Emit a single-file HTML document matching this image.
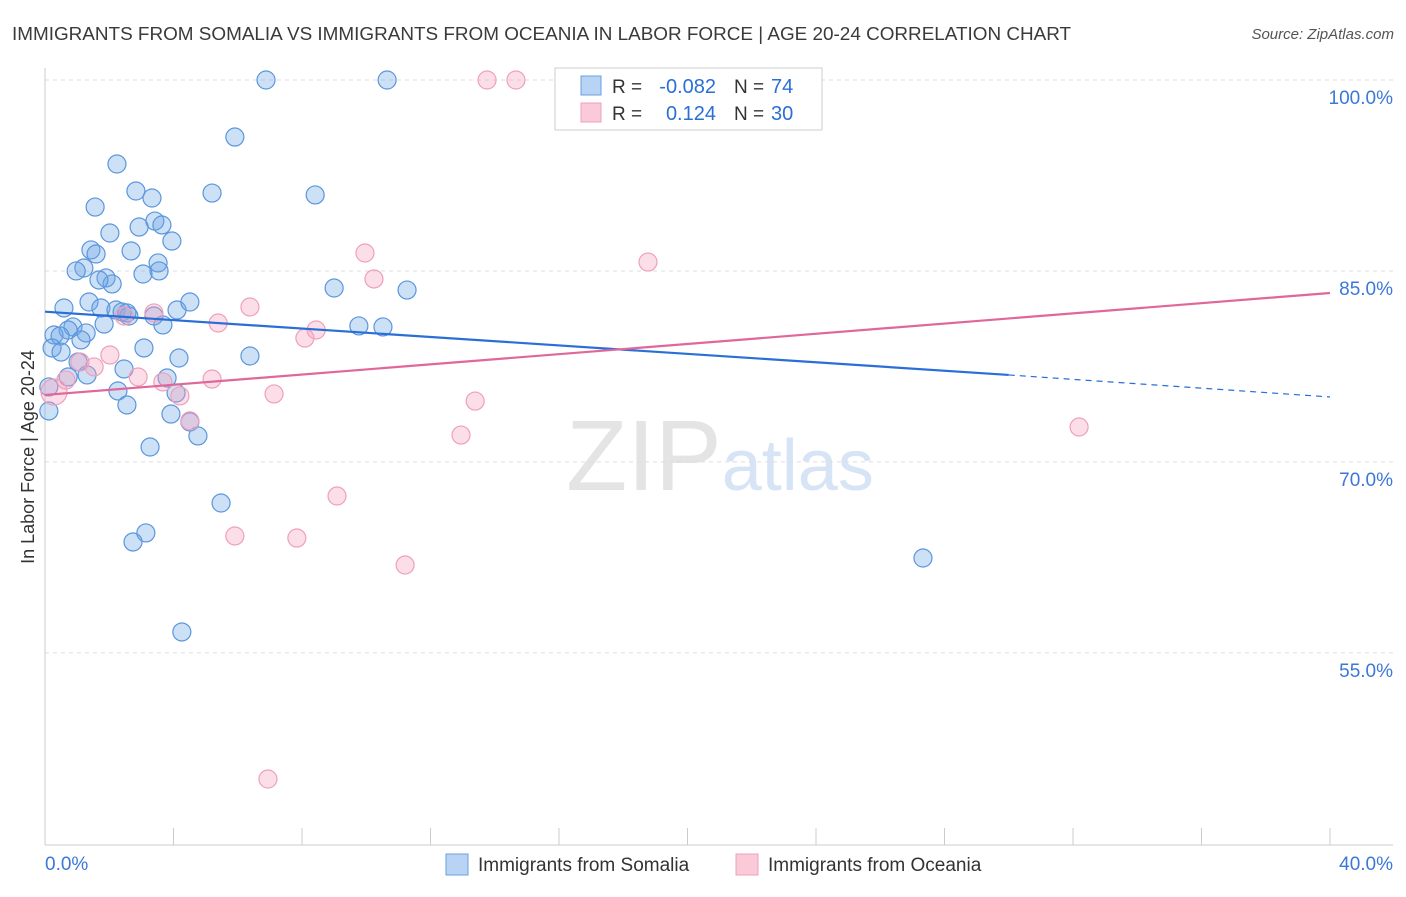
<!DOCTYPE html>
<html><head><meta charset="utf-8"><style>
body{margin:0;background:#fff;font-family:"Liberation Sans",sans-serif;}
svg text{font-family:"Liberation Sans",sans-serif;}
</style></head><body>
<svg id="chart" width="1406" height="892" xmlns="http://www.w3.org/2000/svg">
<text x="12" y="40" font-size="18.9" fill="#3a3a3a">IMMIGRANTS FROM SOMALIA VS IMMIGRANTS FROM OCEANIA IN LABOR FORCE | AGE 20-24 CORRELATION CHART</text>
<text x="1394" y="39" font-size="15" fill="#555" text-anchor="end" font-style="italic">Source: ZipAtlas.com</text>
<text x="720" y="490" font-size="100" fill="#e4e4e4" text-anchor="middle" font-family="Liberation Serif">ZIP<tspan fill="#d6e4f5" font-family="Liberation Sans" font-size="72">atlas</tspan></text>
<text transform="translate(34,457) rotate(-90)" font-size="18" fill="#333" text-anchor="middle">In Labor Force | Age 20-24</text>
<g id="grid"></g><g id="axes"></g><g id="marks"></g><g id="lines"></g>
<g>
<rect x="555" y="68" width="267" height="62" fill="#fff" stroke="#ccc"/>
<rect x="581" y="76" width="20" height="19" fill="#b8d3f3" stroke="#6a9fe0"/>
<rect x="581" y="103" width="20" height="19" fill="#fbcad9" stroke="#eea0bb"/>
<text x="612" y="93" font-size="19" fill="#333">R =</text>
<text x="716" y="93" font-size="20" fill="#2a6fd6" text-anchor="end">-0.082</text>
<text x="734" y="93" font-size="19" fill="#333">N =</text>
<text x="771" y="93" font-size="20" fill="#2a6fd6">74</text>
<text x="612" y="120" font-size="19" fill="#333">R =</text>
<text x="716" y="120" font-size="20" fill="#2a6fd6" text-anchor="end">0.124</text>
<text x="734" y="120" font-size="19" fill="#333">N =</text>
<text x="771" y="120" font-size="20" fill="#2a6fd6">30</text>
</g>
<g>
<rect x="446" y="854" width="22" height="21" fill="#b8d3f3" stroke="#6a9fe0"/>
<text x="478" y="871" font-size="19" fill="#333">Immigrants from Somalia</text>
<rect x="736" y="854" width="22" height="21" fill="#fbcad9" stroke="#eea0bb"/>
<text x="768" y="871" font-size="19" fill="#333">Immigrants from Oceania</text>
</g>
</svg>
<script>
const xTicks=[0,4,8,12,16,20,24,28,32,36,40];
const yTicks=[55,70,85,100];
const yTickLabels=["55.0%","70.0%","85.0%","100.0%"];
const xTickLabels=["0.0%","40.0%"];
const somaliaX=[6.88,10.65,5.91,2.24,2.83,5.20,8.41,1.56,3.33,3.42,3.64,2.02,2.93,3.95,1.43,1.59,2.68,1.21,0.97,3.52,3.55,3.05,1.90,2.09,9.00,11.27,1.68,1.37,0.59,1.74,2.21,2.40,2.61,3.39,4.11,4.51,1.84,0.87,0.72,1.28,0.28,0.47,0.22,0.50,1.12,3.67,9.77,10.52,3.08,6.38,4.17,2.46,1.31,0.72,3.80,2.27,4.08,0.12,0.12,2.55,3.92,4.51,4.76,3.27,5.48,3.14,2.74,4.26,27.33,1.03,2.55];
const somaliaY=[100,100,95.52,93.40,91.28,91.12,90.97,90.02,90.73,88.92,88.61,87.98,88.45,87.35,86.65,86.33,86.57,85.23,85.00,85.63,85.00,84.76,84.45,83.98,83.66,83.50,84.29,82.56,82.09,82.09,81.93,81.78,81.46,81.46,81.93,82.56,80.83,80.60,80.36,80.13,79.97,79.89,78.95,78.63,79.58,80.76,80.68,80.60,78.95,78.32,78.16,77.30,76.83,76.67,76.59,75.57,75.41,75.89,74.00,74.47,73.76,73.14,72.04,71.17,66.77,64.42,63.71,56.64,62.45,77.85,81.70];
const oceaniaX=[13.76,14.66,9.96,18.77,10.24,6.38,3.39,2.46,5.39,8.44,8.09,2.02,1.09,1.53,2.90,3.67,5.20,0.28,0.65,4.20,7.13,13.39,4.51,12.95,32.19,9.09,5.91,7.84,11.21,6.94];
const oceaniaY=[100,100,86.41,85.70,84.37,82.17,81.70,81.46,80.91,80.36,79.73,78.40,77.85,77.46,76.67,76.28,76.51,75.49,76.43,75.18,75.34,74.78,73.22,72.11,72.74,67.32,64.18,64.02,61.90,45.09];
const somaliaTrend=[81.8,76.83,75.1];
const oceaniaTrend=[75.26,83.27];
const NS="http://www.w3.org/2000/svg";
const X=v=>45+v/40*1285;
const Y=v=>80+(100-v)*12.73;
function mk(t,a,p){const e=document.createElementNS(NS,t);for(const k in a)e.setAttribute(k,a[k]);document.getElementById(p).appendChild(e);return e;}
yTicks.forEach((t,i)=>{
 const g=mk('line',{x1:45,x2:1393,y1:Y(t),y2:Y(t),stroke:'#ddd','stroke-dasharray':'4,4'},'grid');
 
 
 const l=mk('text',{x:1393,y:Y(t)+24,'font-size':19,fill:'#3b78d8','text-anchor':'end'},'axes');
 l.textContent=yTickLabels[i];
 
 
});
const ax=mk('line',{x1:45,x2:1393,y1:845,y2:845,stroke:'#ccc'},'axes');


const ay=mk('line',{x1:45,x2:45,y1:68,y2:845,stroke:'#ccc'},'axes');


xTicks.forEach(t=>{
 const e=mk('line',{x1:X(t),x2:X(t),y1:828,y2:845,stroke:'#ccc'},'axes');
 
 
});
[[0,xTickLabels[0],'start',45],[40,xTickLabels[1],'end',1393]].forEach(a=>{
 const e=mk('text',{x:a[3],y:870,'font-size':19,fill:'#3b78d8','text-anchor':a[2]},'axes');
 e.textContent=a[1];
 
 
});
somaliaX.forEach((x,i)=>{
 const c=mk('circle',{cx:X(x),cy:Y(somaliaY[i]),r:9,fill:'rgba(110,165,230,0.35)',stroke:'#5b96dd','stroke-width':1.2},'marks');
 
 
});
oceaniaX.forEach((x,i)=>{
 const c=mk('circle',{cx:X(x),cy:Y(oceaniaY[i]),r:i==17?13:9,fill:'rgba(245,160,190,0.35)',stroke:'#eea0bb','stroke-width':1.2},'marks');
 
 
});
const b1=mk('line',{x1:X(0),y1:Y(somaliaTrend[0]),x2:X(30),y2:Y(somaliaTrend[1]),stroke:'#2a6fd6','stroke-width':2.2},'lines');


const b2=mk('line',{x1:X(30),y1:Y(somaliaTrend[1]),x2:X(40),y2:Y(somaliaTrend[2]),stroke:'#2a6fd6','stroke-width':1.2,'stroke-dasharray':'6,5'},'lines');


const p1=mk('line',{x1:X(0),y1:Y(oceaniaTrend[0]),x2:X(40),y2:Y(oceaniaTrend[1]),stroke:'#e0679a','stroke-width':2.2},'lines');


</script>
</body></html>
